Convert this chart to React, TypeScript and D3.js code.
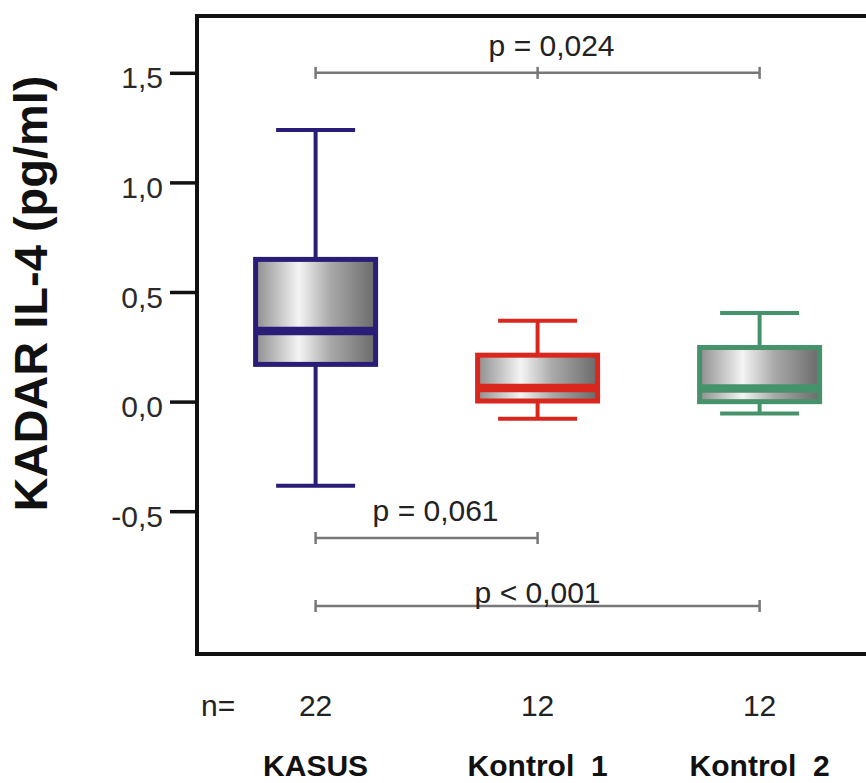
import React from "react";
import * as d3 from "d3";

const categories = ["KASUS", "Kontrol  1", "Kontrol  2"];
const nValues = [22, 12, 12];
const whiskerLow = [-0.382, -0.076, -0.052];
const q1Values = [0.172, 0.005, 0.002];
const medianValues = [0.324, 0.064, 0.062];
const q3Values = [0.651, 0.214, 0.249];
const whiskerHigh = [1.241, 0.371, 0.407];
const boxColors = ["#2a1d78", "#d9271e", "#46936b"];
const yTicks = [-0.5, 0, 0.5, 1.0, 1.5];

const compFrom = [0, 0, 0];
const compTo = [2, 1, 2];
const compLevel = [1.502, -0.62, -0.93];
const compLabel = ["p = 0,024", "p = 0,061", "p < 0,001"];

const W = 866;
const H = 783;

export default function App() {
  const y = d3.scaleLinear().domain([-0.5, 1.5]).range([511.7, 73.3]);
  const x = d3.scalePoint<string>().domain(categories).range([315.6, 759.6]);
  const loc = d3.formatLocale({
    decimal: ",",
    thousands: ".",
    grouping: [3],
    currency: ["", ""],
    minus: "-",
  });
  const fmt = loc.format(".1f");

  const boxW = 120;
  const capW = 79;
  const font = "'Liberation Sans', Arial, Helvetica, sans-serif";
  const labelDx = [14, 9, 0];

  return (
    <div style={{ position: "absolute", left: 0, top: 0 }}>
      <svg width={W} height={H} style={{ display: "block", background: "#fff" }}>
        <defs>
          <linearGradient id="boxGrad" x1="0" x2="1" y1="0" y2="0">
            <stop offset="0%" stopColor="#8e8e8e" />
            <stop offset="36%" stopColor="#f4f4f4" />
            <stop offset="62%" stopColor="#aaaaaa" />
            <stop offset="100%" stopColor="#6a6a6a" />
          </linearGradient>
        </defs>

        {/* frame */}
        <rect x={197} y={16} width={700} height={638} fill="none" stroke="#111" strokeWidth={4} />

        {/* y ticks */}
        {yTicks.map((t) => (
          <g key={t}>
            <line x1={170} x2={197} y1={y(t)} y2={y(t)} stroke="#111" strokeWidth={3.5} />
            <text
              x={163}
              y={y(t) + 15}
              textAnchor="end"
              fontFamily={font}
              fontSize={30}
              fill="#2a2a2a"
            >
              {fmt(t)}
            </text>
          </g>
        ))}

        {/* y axis title */}
        <text
          transform={`translate(47, 293.5) rotate(-90)`}
          textAnchor="middle"
          fontFamily={font}
          fontWeight="bold"
          fontSize={47}
          fill="#111"
        >
          KADAR IL-4 (pg/ml)
        </text>

        {/* boxes */}
        {categories.map((c, i) => {
          const cx = x(c)!;
          const col = boxColors[i];
          return (
            <g key={c}>
              <line x1={cx} x2={cx} y1={y(whiskerHigh[i])} y2={y(q3Values[i])} stroke={col} strokeWidth={4} />
              <line x1={cx} x2={cx} y1={y(q1Values[i])} y2={y(whiskerLow[i])} stroke={col} strokeWidth={4} />
              <line x1={cx - capW / 2} x2={cx + capW / 2} y1={y(whiskerHigh[i])} y2={y(whiskerHigh[i])} stroke={col} strokeWidth={4} />
              <line x1={cx - capW / 2} x2={cx + capW / 2} y1={y(whiskerLow[i])} y2={y(whiskerLow[i])} stroke={col} strokeWidth={4} />
              <rect
                x={cx - boxW / 2}
                y={y(q3Values[i])}
                width={boxW}
                height={y(q1Values[i]) - y(q3Values[i])}
                fill="url(#boxGrad)"
                stroke={col}
                strokeWidth={5}
              />
              <line x1={cx - boxW / 2} x2={cx + boxW / 2} y1={y(medianValues[i])} y2={y(medianValues[i])} stroke={col} strokeWidth={8.5} />
            </g>
          );
        })}

        {/* comparison brackets */}
        {compLabel.map((lab, k) => {
          const xa = x(categories[compFrom[k]])!;
          const xb = x(categories[compTo[k]])!;
          const yy = y(compLevel[k]);
          const mid = (xa + xb) / 2;
          const showMid = k === 0;
          return (
            <g key={lab}>
              <line x1={xa} x2={xb} y1={yy} y2={yy} stroke="#777" strokeWidth={2.5} />
              <line x1={xa} x2={xa} y1={yy - 6} y2={yy + 6} stroke="#777" strokeWidth={2.5} />
              <line x1={xb} x2={xb} y1={yy - 6} y2={yy + 6} stroke="#777" strokeWidth={2.5} />
              {showMid && (
                <line x1={mid} x2={mid} y1={yy - 6} y2={yy + 6} stroke="#777" strokeWidth={2.5} />
              )}
              <text
                x={mid + labelDx[k]}
                y={k === 2 ? yy - 3 : yy - 17}
                textAnchor="middle"
                fontFamily={font}
                fontSize={30}
                fill="#222"
              >
                {lab}
              </text>
            </g>
          );
        })}

        {/* n row */}
        <text x={201} y={716} fontFamily={font} fontSize={30} fill="#222">
          n=
        </text>
        {categories.map((c, i) => (
          <text key={c} x={x(c)!} y={716} textAnchor="middle" fontFamily={font} fontSize={30} fill="#222">
            {nValues[i]}
          </text>
        ))}

        {/* category labels */}
        {categories.map((c) => (
          <text
            key={c}
            x={x(c)!}
            y={776}
            textAnchor="middle"
            fontFamily={font}
            fontWeight="bold"
            fontSize={30}
            fill="#111"
            style={{ whiteSpace: "pre" }}
          >
            {c}
          </text>
        ))}
      </svg>
    </div>
  );
}
